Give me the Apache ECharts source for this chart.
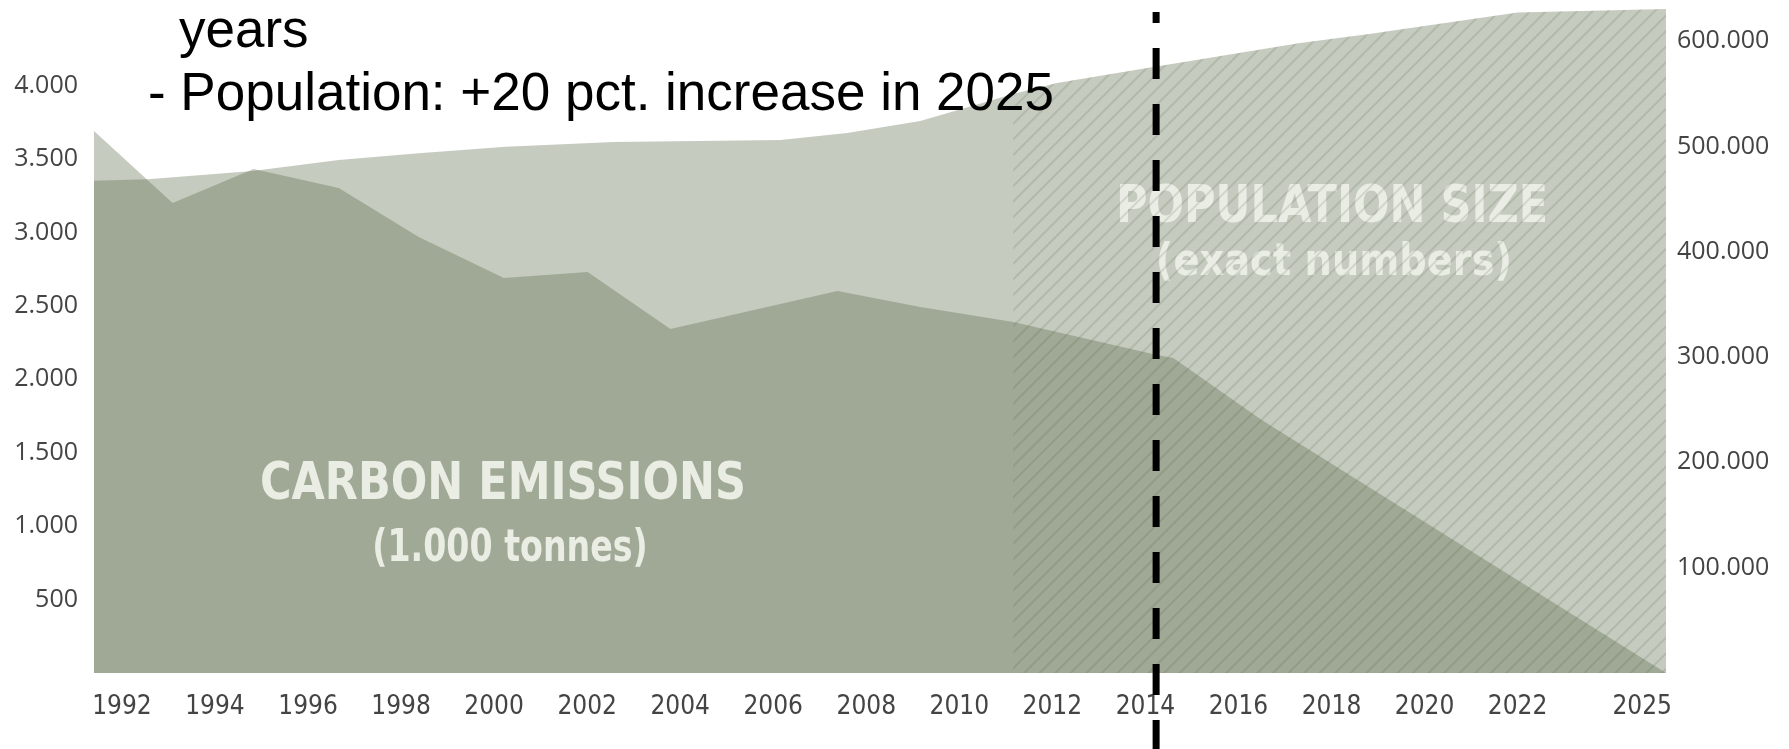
<!DOCTYPE html>
<html><head><meta charset="utf-8">
<script src="https://cdn.jsdelivr.net/npm/echarts@6.0.0/dist/echarts.min.js"></script>
<style>html,body{margin:0;padding:0;background:#fff}#c{width:1789px;height:749px}</style>
</head><body><div id="c"></div>
<script>
// ---- data ----
const xTickYears = [1992,1994,1996,1998,2000,2002,2004,2006,2008,2010,2012,2014,2016,2018,2020,2022,2025];
const leftTicks = [500,1000,1500,2000,2500,3000,3500,4000];
const rightTicks = [100000,200000,300000,400000,500000,600000];

const carbonYears  = [1991.4,1993.09,1994.83,1996.66,1998.38,2000.21,2002.01,2003.79,2007.38,2009.16,2011.16,2014.25,2014.6,2016.5,2025.19];
const carbonValues = [3691,  3200,   3432,   3303,   2969,   2690,   2731,   2343,   2601,   2492,   2390,   2165,   2145,  1723,  0];

const popYears  = [1991.4,1992.56,1994.81,1996.66,1998.38,2000.25,2002.57,2006.16,2007.59,2009.16,2011.16,2012.1,2014.17,2017.33,2018.81,2022.0,2025.19];
const popValues = [467400,468800, 476600, 487100, 493500, 499700, 504200, 506100, 512700, 524100, 549800, 560200,575400, 598200, 606700, 627100,630400];

const hatchStartYear = 2011.16;   // start of the forecast (hatched) part
const dividerYear = 2014.23;      // dashed divider

const subtitleLines = ['years', '- Population: +20 pct. increase in 2025'];
const carbonLabel = ['CARBON EMISSIONS', '(1.000 tonnes)'];
const popLabel = ['POPULATION SIZE', '(exact numbers)'];

// ---- build ----
const pairs = (xs, ys) => xs.map((x, i) => [x, ys[i]]);
const carbonData = pairs(carbonYears, carbonValues);
const popData = pairs(popYears, popValues);
const hatchData = popData.filter(p => p[0] >= hatchStartYear);
const dotFmt = v => String(v).replace(/\B(?=(\d{3})+(?!\d))/g, '.');

const narrow = "'Liberation Sans Narrow', 'DejaVu Sans Condensed', sans-serif";
const areaFill = 'rgb(89,106,72)';
const tickColor = '#444';

const chart = echarts.init(document.getElementById('c'), null, {renderer: 'canvas'});
const option = {
  animation: false,
  backgroundColor: '#fff',
  grid: {left: 94, right: 123, top: 9, bottom: 76, containLabel: false, outerBoundsMode: 'none'},
  xAxis: {
    type: 'value', min: 1991.4, max: 2025.19,
    axisLine: {show: false}, axisTick: {show: false}, splitLine: {show: false},
    axisLabel: {
      customValues: xTickYears, margin: 21,
      fontFamily: narrow, fontSize: 26, color: tickColor,
      formatter: v => v === 2025 ? '{last|2025}' : String(v),
      rich: {last: {fontFamily: narrow, fontSize: 26, color: tickColor, padding: [0, 30, 0, 0]}}
    }
  },
  yAxis: [
    {
      type: 'value', position: 'left', min: 0, max: 4521.6, interval: 500,
      axisLine: {show: false}, axisTick: {show: false}, splitLine: {show: false},
      axisLabel: {customValues: leftTicks, margin: 16, fontFamily: 'Open Sans', fontSize: 25, color: tickColor,
        formatter: v => (v <= 0 || v > 4000) ? '' : dotFmt(v)}
    },
    {
      type: 'value', position: 'right', min: 0, max: 630460, interval: 100000,
      axisLine: {show: false}, axisTick: {show: false}, splitLine: {show: false},
      axisLabel: {customValues: rightTicks, margin: 11, fontFamily: 'Open Sans', fontSize: 25, color: tickColor,
        formatter: v => (v <= 0 || v > 600000) ? '' : dotFmt(v)}
    }
  ],
  series: [
    {name: 'Population size', type: 'line', yAxisIndex: 1, data: popData, symbol: 'none', silent: true,
     lineStyle: {opacity: 0}, areaStyle: {color: areaFill, opacity: 0.35}, z: 2},
    {name: 'Carbon emissions', type: 'line', yAxisIndex: 0, data: carbonData, symbol: 'none', silent: true,
     lineStyle: {opacity: 0}, areaStyle: {color: areaFill, opacity: 0.35}, z: 2},
    {name: 'Forecast', type: 'line', yAxisIndex: 1, data: hatchData, symbol: 'none', silent: true,
     lineStyle: {opacity: 0},
     itemStyle: {color: 'rgba(0,0,0,0)', decal: {symbol: 'rect', symbolSize: 1, dashArrayX: [1, 0], dashArrayY: [1.2, 8.3],
       rotation: -Math.PI / 4, color: 'rgba(70,85,60,0.22)'}},
     areaStyle: {color: 'rgba(0,0,0,0)'}, z: 10}
  ]
};
chart.setOption(option);

const xDiv = chart.convertToPixel({xAxisIndex: 0}, dividerYear);
const lbl = '#e9ede4';
const sub = "53px 'Liberation Sans', Arial, sans-serif";
chart.setOption({
  graphic: [
    {type: 'text', x: 179, y: 32, z: 50, style: {text: subtitleLines[0], font: sub, fill: '#000', align: 'left', verticalAlign: 'middle'}},
    {type: 'text', x: 148, y: 95, z: 50, style: {text: subtitleLines[1], font: sub, fill: '#000', align: 'left', verticalAlign: 'middle'}},
    {type: 'text', x: 503, y: 485, z: 5, scaleX: 0.92, style: {text: carbonLabel[0], font: "bold 52px " + narrow, fill: lbl, align: 'center', verticalAlign: 'middle'}},
    {type: 'text', x: 510, y: 550, z: 5, scaleX: 0.84, style: {text: carbonLabel[1], font: "bold 44px " + narrow, fill: lbl, align: 'center', verticalAlign: 'middle'}},
    {type: 'text', x: 1332, y: 208, z: 5, scaleX: 0.92, style: {text: popLabel[0], font: "bold 52px " + narrow, fill: lbl, align: 'center', verticalAlign: 'middle'}},
    {type: 'text', x: 1334, y: 264, z: 5, scaleX: 0.97, style: {text: popLabel[1], font: "bold 44px " + narrow, fill: lbl, align: 'center', verticalAlign: 'middle'}},
    {type: 'line', z: 100, shape: {x1: xDiv, y1: 12, x2: xDiv, y2: 749},
     style: {stroke: '#000', lineWidth: 7, lineDash: [31, 25], lineDashOffset: 20}}
  ]
});
</script></body></html>
